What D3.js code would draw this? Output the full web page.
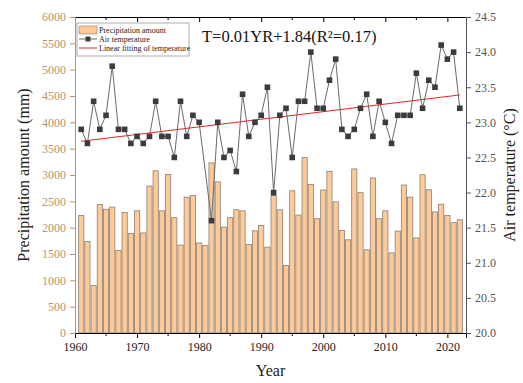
<!DOCTYPE html>
<html>
<head>
<meta charset="utf-8">
<script src="https://cdn.jsdelivr.net/npm/d3@7"></script>
<style>
  body { margin: 0; background: #fff; }
  svg { font-family: "Liberation Serif", "DejaVu Serif", serif; }
</style>
</head>
<body>
<script>
// data
var years = d3.range(1961, 2023);
var precipitation = [
  2230, 1740, 900, 2440, 2350, 2390, 1570, 2290, 1890, 2320,
  1900, 2790, 3080, 2320, 3010, 2190, 1670, 2580, 2610, 1710,
  1660, 3230, 2870, 2010, 2190, 2340, 2320, 1680, 1940, 2040,
  1630, 2610, 2340, 1280, 2700, 2240, 3330, 2820, 2170, 2715,
  3070, 2490, 1945, 1770, 3115, 2665, 1580, 2945, 2170, 2320,
  1520, 1935, 2810, 2580, 1805, 3005, 2720, 2300, 2445, 2230,
  2095, 2150
];
var temperature = [
  22.9, 22.7, 23.3, 22.9, 23.1, 23.8, 22.9, 22.9, 22.7, 22.8,
  22.7, 22.8, 23.3, 22.8, 22.8, 22.5, 23.3, 22.8, 23.1, 23.0,
  null, 21.6, 23.0, 22.5, 22.6, 22.3, 23.4, 22.8, 23.0, 23.1,
  23.5, 22.0, 23.1, 23.2, 22.5, 23.3, 23.3, 24.0, 23.2, 23.2,
  23.6, 23.9, 22.9, 22.8, 22.9, 23.2, 23.4, 22.8, 23.3, 23.0,
  22.7, 23.1, 23.1, 23.1, 23.7, 23.2, 23.6, 23.5, 24.1, 23.9,
  24.0, 23.2
];
var fitYears = [1961, 2022];
var fitValues = [22.73, 23.39];
var leftTicks = d3.range(0, 6001, 500);
var rightTicks = d3.range(20, 24.51, 0.5);
var yearTicks = d3.range(1960, 2021, 10);
var yearMinorTicks = d3.range(1965, 2021, 10);

var width = 523,
    height = 383,
    margin = {top: 17, right: 57, bottom: 50, left: 75};

var barColor = "#fdca98",
    tanColor = "#b8946c",
    greyColor = "#555";

var x = d3.scaleLinear().domain([1960, 2023]).range([margin.left, width - margin.right]);
var yP = d3.scaleLinear().domain([0, 6000]).range([height - margin.bottom, margin.top]);
var yT = d3.scaleLinear().domain([20, 24.5]).range([height - margin.bottom, margin.top]);

var svg = d3.select("body").append("svg")
    .attr("width", width)
    .attr("height", height);

var barW = 5.2;

// bars
svg.append("g").selectAll("rect")
    .data(years)
  .enter().append("rect")
    .attr("x", function(d) { return x(d) - barW / 2; })
    .attr("y", function(d, i) { return yP(precipitation[i]); })
    .attr("width", barW)
    .attr("height", function(d, i) { return yP(0) - yP(precipitation[i]); })
    .attr("fill", barColor)
    .attr("stroke", "#8a8078")
    .attr("stroke-width", 0.8);

// temperature line + markers
var tData = years.map(function(d, i) { return {year: d, t: temperature[i]}; })
    .filter(function(d) { return d.t !== null; });

var line = d3.line()
    .x(function(d) { return x(d.year); })
    .y(function(d) { return yT(d.t); });

svg.append("path")
    .datum(tData)
    .attr("d", line)
    .attr("fill", "none")
    .attr("stroke", "#6a6a6a")
    .attr("stroke-width", 1);

// fit line
svg.append("line")
    .attr("x1", x(fitYears[0])).attr("y1", yT(fitValues[0]))
    .attr("x2", x(fitYears[1])).attr("y2", yT(fitValues[1]))
    .attr("stroke", "#e0262b")
    .attr("stroke-width", 1);

svg.append("g").selectAll("rect")
    .data(tData)
  .enter().append("rect")
    .attr("x", function(d) { return x(d.year) - 2.8; })
    .attr("y", function(d) { return yT(d.t) - 2.8; })
    .attr("width", 5.6)
    .attr("height", 5.6)
    .attr("fill", "#3c3c3c");

// axes
var axBottom = svg.append("g")
    .attr("transform", "translate(0," + (height - margin.bottom) + ")")
    .call(d3.axisBottom(x).tickValues(yearTicks).tickFormat(d3.format("d")).tickSize(5).tickPadding(4));
axBottom.append("g").selectAll("line")
    .data(yearMinorTicks)
  .enter().append("line")
    .attr("x1", function(d) { return x(d); }).attr("x2", function(d) { return x(d); })
    .attr("y1", 0).attr("y2", 3)
    .attr("stroke", "#000");

var axTop = svg.append("g")
    .attr("transform", "translate(0," + margin.top + ")")
    .call(d3.axisTop(x).tickValues(yearTicks).tickFormat("").tickSize(-5));
axTop.append("g").selectAll("line")
    .data(yearMinorTicks)
  .enter().append("line")
    .attr("x1", function(d) { return x(d); }).attr("x2", function(d) { return x(d); })
    .attr("y1", 0).attr("y2", 3)
    .attr("stroke", "#000");

var axLeft = svg.append("g")
    .attr("transform", "translate(" + margin.left + ",0)")
    .call(d3.axisLeft(yP).tickValues(leftTicks).tickFormat(d3.format("d")).tickSize(5).tickPadding(4));
axLeft.selectAll("line, path").attr("stroke", tanColor);
axLeft.selectAll("text").attr("fill", tanColor);

var axRight = svg.append("g")
    .attr("transform", "translate(" + (width - margin.right) + ",0)")
    .call(d3.axisRight(yT).tickValues(rightTicks).tickFormat(d3.format(".1f")).tickSize(5).tickPadding(4));
axRight.selectAll("line, path").attr("stroke", greyColor);
axRight.selectAll("text").attr("fill", greyColor);

[axBottom, axTop, axLeft, axRight].forEach(function(g) {
  g.attr("font-family", "'Liberation Serif', serif").attr("font-size", 12);
});
axBottom.selectAll("text").attr("fill", "#222");

// axis titles
svg.append("text")
    .attr("transform", "translate(23," + ((margin.top + height - margin.bottom) / 2) + ") rotate(-90)")
    .attr("text-anchor", "middle")
    .attr("dy", "0.35em")
    .style("font-size", "16px")
    .attr("fill", "#222")
    .text("Precipitation amount (mm)");

svg.append("text")
    .attr("transform", "translate(509," + ((margin.top + height - margin.bottom) / 2) + ") rotate(-90)")
    .attr("text-anchor", "middle")
    .attr("dy", "0.35em")
    .style("font-size", "16px")
    .attr("fill", "#222")
    .text("Air temperature (°C)");

svg.append("text")
    .attr("x", (margin.left + width - margin.right) / 2)
    .attr("y", 376)
    .attr("text-anchor", "middle")
    .style("font-size", "16px")
    .attr("fill", "#222")
    .text("Year");

// equation
svg.append("text")
    .attr("x", 202)
    .attr("y", 42)
    .style("font-size", "16.5px")
    .attr("fill", "#111")
    .text("T=0.01YR+1.84(R²=0.17)");

// legend
var lg = svg.append("g").attr("transform", "translate(77,23)");
lg.append("rect")
    .attr("width", 112).attr("height", 33)
    .attr("fill", "#fff").attr("stroke", "#999").attr("stroke-width", 0.8);
lg.append("rect")
    .attr("x", 2).attr("y", 3).attr("width", 18).attr("height", 8)
    .attr("fill", barColor).attr("stroke", "#8a8078").attr("stroke-width", 0.6);
lg.append("line")
    .attr("x1", 2).attr("x2", 20).attr("y1", 16).attr("y2", 16)
    .attr("stroke", "#6a6a6a");
lg.append("rect")
    .attr("x", 8.5).attr("y", 13.5).attr("width", 5).attr("height", 5)
    .attr("fill", "#3c3c3c");
lg.append("line")
    .attr("x1", 2).attr("x2", 20).attr("y1", 25).attr("y2", 25)
    .attr("stroke", "#e0262b");
var labels = ["Precipitation amount", "Air temperature", "Linear fitting of temperature"];
lg.selectAll("text.lab")
    .data(labels)
  .enter().append("text")
    .attr("class", "lab")
    .attr("x", 22)
    .attr("y", function(d, i) { return 7 + i * 9; })
    .attr("dy", "0.35em")
    .style("font-size", "8px")
    .attr("fill", "#222")
    .text(function(d) { return d; });
</script>
</body>
</html>
